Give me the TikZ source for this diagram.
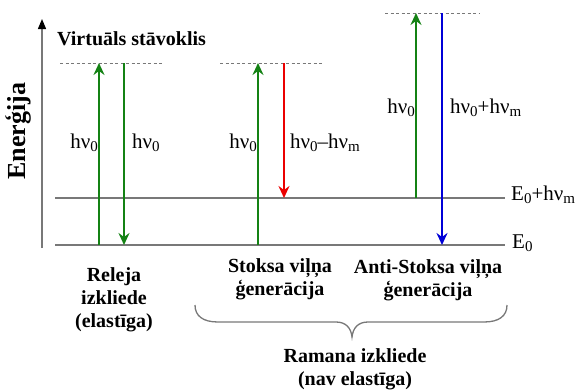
\documentclass[tikz,border=0pt]{standalone}
\usepackage{fontspec}
\setmainfont{Liberation Serif}
\usetikzlibrary{arrows.meta}
\definecolor{lvlgray}{RGB}{120,120,120}
\definecolor{upgreen}{RGB}{20,130,20}
\definecolor{dnred}{RGB}{235,0,0}
\definecolor{dnblue}{RGB}{0,0,215}
\newcommand\lowidx[1]{\raisebox{-0.35ex}{\fontsize{15}{15}\selectfont #1}}
\tikzset{
  level/.style={draw=lvlgray, line width=1.9pt},
  virt/.style={draw=lvlgray, line width=0.9pt, dash pattern=on 3pt off 2.5pt},
  photon/.style={line width=2.2pt, -{Stealth[length=12pt,width=11pt,inset=4pt]}},
  lbl/.style={font=\fontsize{21}{21}\selectfont, inner sep=0pt},
  captxt/.style={font=\fontsize{20}{23}\selectfont\bfseries, align=center, inner sep=0pt},
}
\begin{document}
\begin{tikzpicture}[x=1pt,y=-1pt]
\useasboundingbox (0,0) rectangle (578,391);

% energy axis
\coordinate (ax0) at (42,248);
\coordinate (ax1) at (42,19);
\draw[lvlgray, line width=1.3pt] (ax0) -- (42,28);
\draw[black, line width=1.3pt, -{Triangle[length=10pt,width=8pt]}] (42,26) -- (ax1);
\node[captxt, font=\fontsize{26}{26}\selectfont\bfseries, rotate=90] (energy) at (18,131) {Enerģija};

% real levels
\coordinate (e0a) at (55,245);  \coordinate (e0b) at (505,245);
\coordinate (e1a) at (55,198);  \coordinate (e1b) at (505,198);
\draw[level] (e0a) -- (e0b);
\draw[level] (e1a) -- (e1b);
\node[lbl, anchor=west] (lE0) at (512,243) {E\lowidx{0}};
\node[lbl, anchor=west] (lE1) at (511,195) {E\lowidx{0}+hν\lowidx{m}};

% virtual levels
\coordinate (v1a) at (60,63);   \coordinate (v1b) at (163,63);
\coordinate (v2a) at (220,63);  \coordinate (v2b) at (322,63);
\coordinate (v3a) at (385,13);  \coordinate (v3b) at (480,13);
\draw[virt] (v1a) -- (v1b);
\draw[virt] (v2a) -- (v2b);
\draw[virt] (v3a) -- (v3b);
\node[captxt, anchor=west] (virtual) at (57,39) {Virtuāls stāvoklis};

% Rayleigh
\draw[photon, upgreen] (99,245) -- (99,63);
\draw[photon, upgreen] (124,63) -- (124,245);
\node[lbl, anchor=east] (r1) at (98,143) {hν\lowidx{0}};
\node[lbl, anchor=west] (r2) at (132,143) {hν\lowidx{0}};

% Stokes
\draw[photon, upgreen] (258,245) -- (258,63);
\draw[photon, dnred] (284,63) -- (284,198);
\node[lbl, anchor=east] (s1) at (257,143) {hν\lowidx{0}};
\node[lbl, anchor=west] (s2) at (290,143) {hν\lowidx{0}–hν\lowidx{m}};

% anti-Stokes
\draw[photon, upgreen] (416,198) -- (416,13);
\draw[photon, dnblue] (442,13) -- (442,245);
\node[lbl, anchor=east] (a1) at (415,108) {hν\lowidx{0}};
\node[lbl, anchor=west] (a2) at (450,108) {hν\lowidx{0}+hν\lowidx{m}};

% captions
\node[captxt] (cr) at (114,300) {Releja\\izkliede\\(elastīga)};
\node[captxt] (cs) at (280,279) {Stoksa viļņa\\ģenerācija};
\node[captxt] (ca) at (428,280) {Anti-Stoksa viļņa\\ģenerācija};

% brace under the two Raman cases
\coordinate (bl) at (195,305);
\coordinate (br) at (507,305);
\coordinate (bt) at (352,337);
\draw[lvlgray, line width=1.3pt]
  (bl) .. controls (195,316) and (203,322) .. (218,322)
  -- (336,322) .. controls (346,322) and (351,328) .. (bt)
  .. controls (353,328) and (358,322) .. (368,322)
  -- (484,322) .. controls (499,322) and (507,316) .. (br);
\node[captxt] (cram) at (355,369) {Ramana izkliede\\(nav elastīga)};
\end{tikzpicture}
\end{document}
